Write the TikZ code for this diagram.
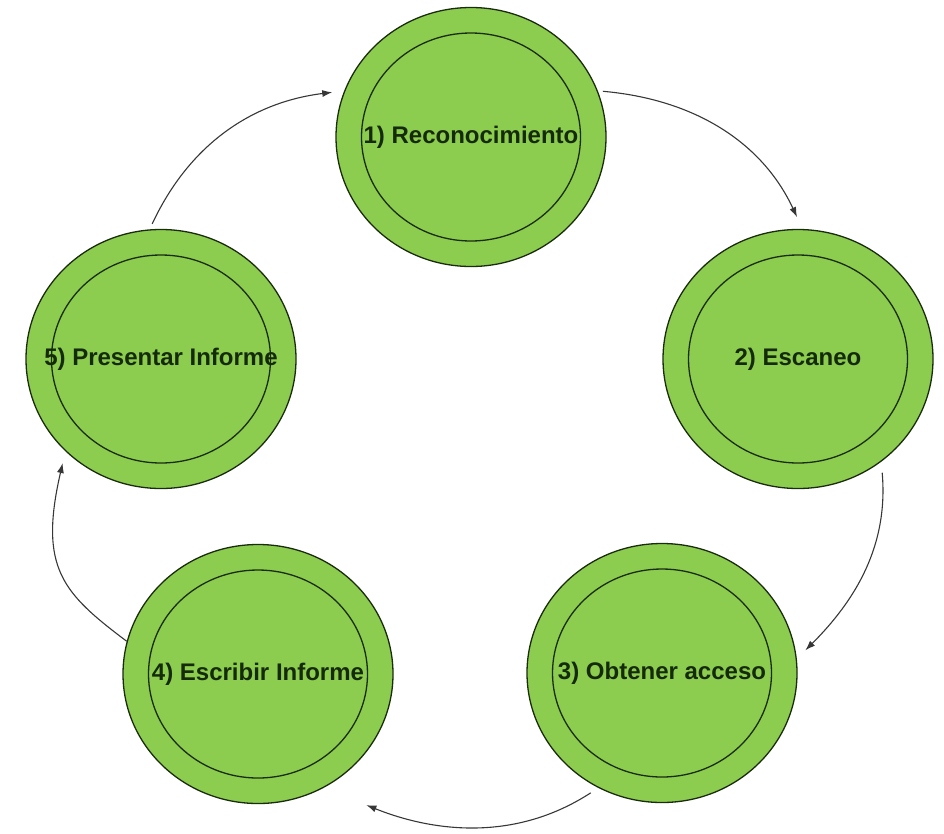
\documentclass[tikz,border=0pt]{standalone}
\usepackage{fontspec}
\setmainfont{Liberation Sans}
\usetikzlibrary{shapes.geometric, arrows.meta}

\definecolor{verde}{RGB}{140,204,78}
\definecolor{borde}{RGB}{26,44,16}
\definecolor{letra}{RGB}{20,42,10}
\definecolor{trazo}{RGB}{55,55,55}

\begin{document}
\begin{tikzpicture}[x=1pt, y=1pt,
  etapa/.style={ellipse, draw=borde, line width=1.3pt, fill=verde, inner sep=0pt,
    minimum width=270pt, minimum height=259pt,
    path picture={\draw[borde, line width=1.3pt] (path picture bounding box.center) ellipse (109.5pt and 104pt);}},
  rotulo/.style={font=\bfseries\fontsize{24}{28}\selectfont, text=letra, inner sep=0pt},
  paso/.style={draw=trazo, line width=1.1pt, -{Latex[length=10pt, width=7pt]}}]

\useasboundingbox (0,0) rectangle (944,-833);

\node[etapa, label={[rotulo]center:1) Reconocimiento}] (reco) at (471,-137) {};
\node[etapa, label={[rotulo]center:2) Escaneo}] (esca) at (798,-359) {};
\node[etapa, label={[rotulo]center:3) Obtener acceso}] (acce) at (662,-673) {};
\node[etapa, label={[rotulo]center:4) Escribir Informe}] (escr) at (258,-674) {};
\node[etapa, label={[rotulo]center:5) Presentar Informe}] (pres) at (161,-359) {};

\draw[paso, shorten <=5pt, shorten >=13pt] (reco.20) to[out=-5, in=115] (esca.88);
\draw[paso, shorten <=11pt, shorten >=12pt] (esca.-51) to[out=-85, in=45] (acce.6);
\draw[paso, shorten <=9pt, shorten >=46pt] (acce.-119) to[out=-147, in=-22] (escr.-60);
\draw[paso, shorten >=12pt] (escr.166) to[out=143, in=-103, out distance=80pt, in distance=120pt] (pres.-136);
\draw[paso, shorten <=6pt, shorten >=12pt] (pres.95) to[out=65, in=187] (reco.160);

\end{tikzpicture}
\end{document}
